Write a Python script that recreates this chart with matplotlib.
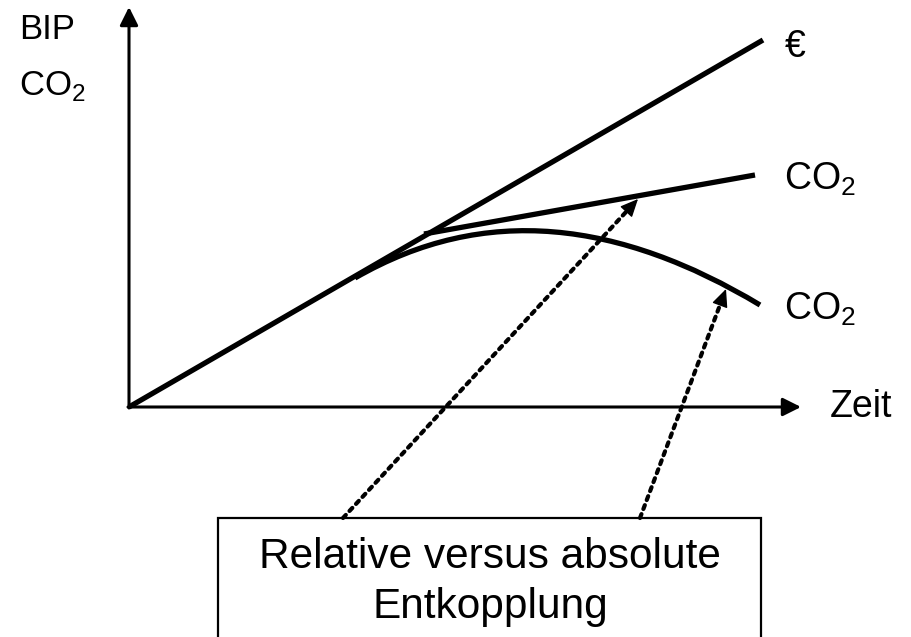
import matplotlib.pyplot as plt
from matplotlib.patches import Rectangle, PathPatch
from matplotlib.path import Path

plt.rcParams['font.family'] = ['Liberation Sans', 'DejaVu Sans']
plt.rcParams['mathtext.fontset'] = 'custom'
plt.rcParams['mathtext.rm'] = 'Liberation Sans'

# Skizze: Einheiten ~ Pixel, Ursprung im Achsenkreuz
gdp_x = [0, 634]
gdp_y = [0, 367]

rel_x = [295, 626]
rel_y = [173, 232]

# absolute Entkopplung als Bezierkurve (Start, 2 Kontrollpunkte, Ende)
abs_x = [226, 356, 491, 631]
abs_y = [129, 204, 186, 102]

# Pfeile: Start (Kasten) -> Ziel (Kurve)
arrow_start = [(214, -111), (511, -111)]
arrow_end = [(509, 208), (597, 118)]

fig = plt.figure(figsize=(9.11, 6.37), dpi=100)
ax = fig.add_axes([0, 0, 1, 1])
ax.set_xlim(-129, 782)
ax.set_ylim(-230, 407)
ax.axis('off')

head = '-|>,head_length=1.1,head_width=0.55'
ax.annotate('', xy=(0, 400), xytext=(0, -1),
            arrowprops=dict(arrowstyle=head, lw=2.2, color='black', shrinkA=0, shrinkB=0))
ax.annotate('', xy=(672, 0), xytext=(-1, 0),
            arrowprops=dict(arrowstyle=head, lw=2.2, color='black', shrinkA=0, shrinkB=0))

ax.plot(gdp_x, gdp_y, color='black', lw=3.8, solid_capstyle='butt')
ax.plot(rel_x, rel_y, color='black', lw=3.8, solid_capstyle='butt')
curve = Path(list(zip(abs_x, abs_y)), [Path.MOVETO, Path.CURVE4, Path.CURVE4, Path.CURVE4])
ax.add_patch(PathPatch(curve, facecolor='none', edgecolor='black', lw=3.8, capstyle='butt'))

# gepunkteter Schaft + massive Spitze
for s, e in zip(arrow_start, arrow_end):
    ax.annotate('', xy=e, xytext=s,
                arrowprops=dict(arrowstyle='-', lw=3.0, ls=(0, (1, 1.3)),
                                color='black', shrinkA=0, shrinkB=8))
    back = (e[0] - 0.03 * (e[0] - s[0]), e[1] - 0.03 * (e[1] - s[1]))
    ax.annotate('', xy=e, xytext=back,
                arrowprops=dict(arrowstyle='-|>,head_length=1.1,head_width=0.5',
                                lw=1.0, color='black', shrinkA=0, shrinkB=0))

box = Rectangle((89, -240), 543, 129, facecolor='white', edgecolor='black', lw=1.6)
ax.add_patch(box)
ax.text(361, -161, 'Relative versus absolute', ha='center', va='baseline', fontsize=30.5)
ax.text(361, -211, 'Entkopplung', ha='center', va='baseline', fontsize=30.5)

ax.text(-110, 368, 'BIP', fontsize=25, va='baseline')
ax.text(-110, 312, r'CO$_\mathrm{2}$', fontsize=25, va='baseline')
ax.text(701, -10, 'Zeit', fontsize=27, va='baseline')
ax.text(656, 350, '€', fontsize=27, va='baseline')
ax.text(655, 217, r'CO$_\mathrm{2}$', fontsize=27, va='baseline')
ax.text(655, 87, r'CO$_\mathrm{2}$', fontsize=27, va='baseline')

fig.savefig('out.png', dpi=100)
